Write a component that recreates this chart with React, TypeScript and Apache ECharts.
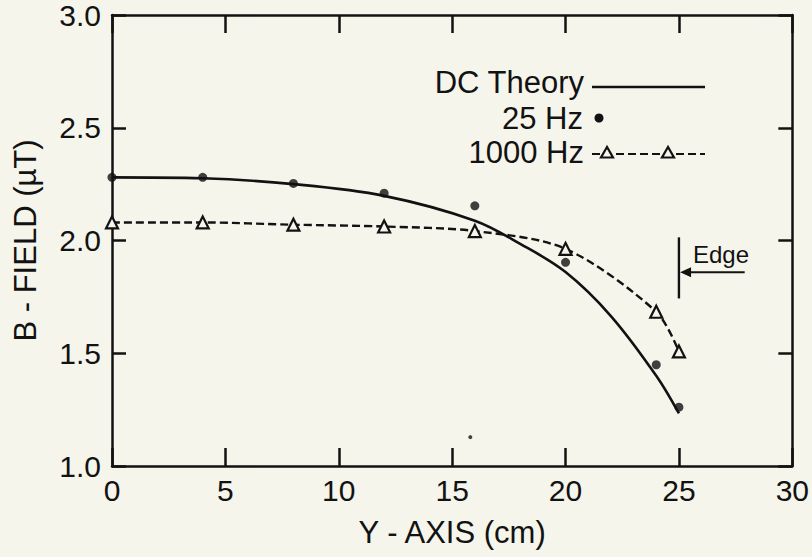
import React, { useEffect, useRef } from "react";
import * as echarts from "echarts";

// ---- data ----
const dcTheoryX = [0, 4, 8, 12, 16, 18, 20, 22, 24, 25];
const dcTheoryY = [2.28, 2.276, 2.25, 2.198, 2.088, 1.985, 1.86, 1.665, 1.4, 1.233];
const hz25X = [0, 4, 8, 12, 16, 20, 24, 25];
const hz25Y = [2.28, 2.28, 2.253, 2.21, 2.154, 1.903, 1.449, 1.261];
const hz1000X = [0, 4, 8, 12, 16, 20, 24, 25];
const hz1000Y = [2.08, 2.08, 2.07, 2.062, 2.042, 1.963, 1.684, 1.508];
const speckX = [15.8];
const speckY = [1.128];
const xTickValues = [0, 5, 10, 15, 20, 25, 30];
const xTickLabels = ["0", "5", "10", "15", "20", "25", "30"];
const yTickValues = [1.0, 1.5, 2.0, 2.5, 3.0];
const yTickLabels = ["1.0", "1.5", "2.0", "2.5", "3.0"];
const legendNames = ["DC Theory", "25 Hz", "1000 Hz"];
const xAxisName = "Y - AXIS (cm)";
const yAxisName = "B - FIELD (\u00b5T)";
const edgeLabel = "Edge";
const edgeX = 25;
const edgeBarY = [1.743, 2.014];
const edgeArrowY = 1.859;
const edgeArrowFromX = 27.9;
const edgeTextPos = [25.62, 1.94];

const INK = "#121212";
const BG = "#f6f5ec";
const FONT = '"Liberation Sans", Arial, Helvetica, sans-serif';
const FS = 30;

const zip = (xs: number[], ys: number[]) => xs.map((x, i) => [x, ys[i]]);

export default function App() {
  const ref = useRef<HTMLDivElement>(null);
  useEffect(() => {
    document.body.style.margin = "0";
    const chart = echarts.init(ref.current!, undefined, { renderer: "svg" });
    const axisLine = { show: true, onZero: false, lineStyle: { color: INK, width: 2.5 } };
    const xTick = { show: true, inside: true, length: 18, lineStyle: { color: INK, width: 2.5 } };
    const yTick = { show: true, inside: true, length: 14, lineStyle: { color: INK, width: 2.5 } };
    chart.setOption({
      animation: false,
      backgroundColor: BG,
      textStyle: { fontFamily: FONT, color: INK },
      grid: { left: 112, right: 18, top: 14, bottom: 91 },
      xAxis: [
        {
          type: "value",
          min: 0,
          max: 30,
          interval: 5,
          position: "bottom",
          axisLine,
          splitLine: { show: false },
          axisTick: xTick,
          axisLabel: {
            fontSize: FS,
            color: INK,
            fontFamily: FONT,
            margin: 9,
            formatter: (v: number) => xTickLabels[xTickValues.indexOf(v)] ?? "",
          },
          name: xAxisName,
          nameLocation: "middle",
          nameGap: 51,
          nameTextStyle: { fontSize: 31, color: INK, fontFamily: FONT },
        },
        {
          type: "value",
          min: 0,
          max: 30,
          interval: 5,
          position: "top",
          axisLine,
          splitLine: { show: false },
          axisTick: xTick,
          axisLabel: { show: false },
        },
      ],
      yAxis: [
        {
          type: "value",
          min: 1,
          max: 3,
          interval: 0.5,
          position: "left",
          axisLine,
          splitLine: { show: false },
          axisTick: yTick,
          axisLabel: {
            fontSize: FS,
            color: INK,
            fontFamily: FONT,
            margin: 11,
            formatter: (v: number) =>
              yTickLabels[yTickValues.findIndex((t) => Math.abs(t - v) < 1e-6)] ?? "",
          },
          name: yAxisName,
          nameLocation: "middle",
          nameRotate: 90,
          nameGap: 71,
          nameTextStyle: { fontSize: 31, color: INK, fontFamily: FONT },
        },
        {
          type: "value",
          min: 1,
          max: 3,
          interval: 0.5,
          position: "right",
          axisLine,
          splitLine: { show: false },
          axisTick: yTick,
          axisLabel: { show: false },
        },
      ],
      series: [
        {
          name: legendNames[0],
          type: "line",
          data: zip(dcTheoryX, dcTheoryY),
          smooth: 0.35,
          showSymbol: false,
          lineStyle: { color: INK, width: 2.6 },
          z: 3,
        },
        {
          name: legendNames[2],
          type: "line",
          data: zip(hz1000X, hz1000Y),
          smooth: 0.3,
          symbol: "triangle",
          symbolSize: 12,
          showSymbol: true,
          lineStyle: { color: INK, width: 2.4, type: [8, 4] },
          itemStyle: { color: BG, borderColor: INK, borderWidth: 2.2 },
          z: 4,
        },
        {
          name: legendNames[1],
          type: "scatter",
          data: zip(hz25X, hz25Y),
          symbol: "circle",
          symbolSize: 9,
          itemStyle: { color: INK },
          z: 5,
        },
        {
          name: "speck",
          type: "scatter",
          data: zip(speckX, speckY),
          symbolSize: 4,
          itemStyle: { color: INK },
          silent: true,
        },
      ],
    });

    const px = (x: number, y: number) =>
      chart.convertToPixel({ gridIndex: 0 }, [x, y]) as number[];
    const a = px(edgeX, edgeBarY[0]);
    const b = px(edgeX, edgeBarY[1]);
    const arrFrom = px(edgeArrowFromX, edgeArrowY);
    const arrTo = px(edgeX + 0.05, edgeArrowY);
    const et = px(edgeTextPos[0], edgeTextPos[1]);

    const seg = (xa: number, ya: number, xb: number, yb: number, w = 2) => ({
      type: "line",
      shape: { x1: xa, y1: ya, x2: xb, y2: yb },
      style: { stroke: INK, lineWidth: w },
    });
    const txt = (text: string, x: number, y: number, size = FS, align = "right") => ({
      type: "text",
      x,
      y,
      style: { text, fill: INK, fontSize: size, fontFamily: FONT, align, verticalAlign: "middle" },
    });
    const tri = (cx: number, cy: number) => ({
      type: "polygon",
      shape: { points: [[cx, cy - 6], [cx - 6, cy + 4.5], [cx + 6, cy + 4.5]] },
      style: { fill: BG, stroke: INK, lineWidth: 2.2 },
    });

    chart.setOption({
      graphic: [
        txt(legendNames[0], 584, 82, 31),
        seg(592, 87, 705, 87, 2.6),
        txt(legendNames[1], 583, 118, 31),
        { type: "circle", shape: { cx: 599, cy: 118, r: 4.5 }, style: { fill: INK } },
        txt(legendNames[2], 584, 152, 31),
        {
          type: "line",
          shape: { x1: 592, y1: 154, x2: 705, y2: 154 },
          style: { stroke: INK, lineWidth: 2.2, lineDash: [8, 4] },
        },
        tri(607, 153),
        tri(668, 153),
        seg(a[0], a[1], b[0], b[1], 2.4),
        seg(arrFrom[0], arrFrom[1], arrTo[0] + 8, arrTo[1], 2),
        {
          type: "polygon",
          shape: { points: [[arrTo[0], arrTo[1]], [arrTo[0] + 11, arrTo[1] - 5], [arrTo[0] + 11, arrTo[1] + 5]] },
          style: { fill: INK },
        },
        txt(edgeLabel, et[0], et[1], 24, "left"),
      ],
    });
    return () => chart.dispose();
  }, []);
  return (
    <div
      ref={ref}
      style={{ position: "fixed", left: 0, top: 0, width: 812, height: 557, background: BG }}
    />
  );
}
